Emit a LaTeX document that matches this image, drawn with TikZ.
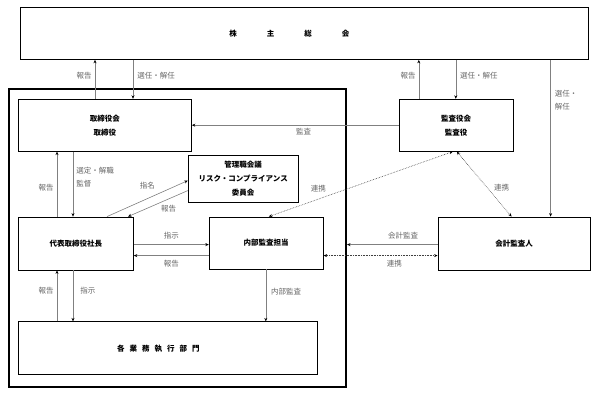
\documentclass[tikz,border=0pt]{standalone}
\usepackage{fontspec}
\setmainfont{Noto Sans CJK JP}
\usetikzlibrary{arrows.meta, positioning}

\begin{document}
\begin{tikzpicture}[
    box/.style={rectangle, draw=black, fill=white, line width=0.8pt, inner sep=2pt, align=center, font=\bfseries\fontsize{7.5pt}{14pt}\selectfont},
    framebox/.style={rectangle, draw=black, line width=2pt, minimum width=337pt, minimum height=298pt},
    arrow/.style={-{Stealth[length=3.5pt, width=3pt, color=black]}, line width=0.6pt, draw=black!50},
    darrow/.style={{Stealth[length=3.5pt, width=3pt, color=black]}-{Stealth[length=3.5pt, width=3pt, color=black]}, line width=0.6pt, densely dotted, draw=black!75},
    note/.style={font=\fontsize{7.5pt}{13pt}\selectfont, text=black!60, inner sep=1pt}
]
\useasboundingbox (0,0) rectangle (595pt,-393pt);

% Shareholders meeting (top)
\node[box, anchor=north west, minimum width=568pt, minimum height=52pt] (soukai) at (20pt,-7pt) {株\hspace{30pt}主\hspace{30pt}総\hspace{30pt}会\hspace*{30pt}};

% Company frame
\node[framebox, below right=28pt and -12pt of soukai.south west] (naibu) {};

% Boxes
\node[box, minimum width=173pt, minimum height=52pt, below right=39pt and -2pt of soukai.south west] (torishimari) {取締役会\\取締役};
\node[box, minimum width=114pt, minimum height=52pt, below right=0pt and 207pt of torishimari.north east] (kansayaku) {監査役会\\監査役};
\node[box, minimum width=110pt, minimum height=47pt, below right=3pt and -4pt of torishimari.south east] (kanrishoku) {管理職会議\\リスク・コンプライアンス\\委員会};
\node[box, minimum width=115pt, minimum height=53pt, below right=65pt and 0pt of torishimari.south west] (daihyo) {代表取締役社長};
\node[box, minimum width=114pt, minimum height=52pt, below right=0pt and 75pt of daihyo.north east] (naibukansa) {内部監査担当};
\node[box, minimum width=152pt, minimum height=53pt, below right=0pt and 114pt of naibukansa.north east] (kaikei) {会計監査人};
\node[box, minimum width=299pt, minimum height=53pt, below right=51pt and 0pt of daihyo.south west] (kakugyomu) {各\hspace{5pt}業\hspace{5pt}務\hspace{5pt}執\hspace{5pt}行\hspace{5pt}部\hspace{5pt}門\hspace*{19pt}};

% Shareholders meeting <-> boards
\draw[arrow] ([xshift=77pt]torishimari.north west) -- ([xshift=77pt]torishimari.north west |- soukai.south) node[note, pos=0.6, left=2pt] {報告};
\draw[arrow] ([xshift=115pt]torishimari.north west |- soukai.south) -- ([xshift=115pt]torishimari.north west) node[note, pos=0.4, right=3pt] {選任・解任};
\draw[arrow] ([xshift=20pt]kansayaku.north west) -- ([xshift=20pt]kansayaku.north west |- soukai.south) node[note, pos=0.6, left=2pt] {報告};
\draw[arrow] ([xshift=57pt]kansayaku.north west |- soukai.south) -- ([xshift=57pt]kansayaku.north west) node[note, pos=0.4, right=3pt] {選任・解任};
\draw[arrow] ([xshift=113pt]kaikei.north west |- soukai.south) -- ([xshift=113pt]kaikei.north west) node[note, pos=0.26, right=3pt, align=left] {選任・\\解任};

% Audit
\draw[arrow] (kansayaku.west) -- (torishimari.east) node[note, pos=0.46, below=2pt] {監査};

% Board <-> president
\draw[arrow] ([xshift=39pt]daihyo.north west) -- ([xshift=39pt]daihyo.north west |- torishimari.south) node[note, pos=0.45, left=2pt] {報告};
\draw[arrow] ([xshift=55pt]daihyo.north west |- torishimari.south) -- ([xshift=55pt]daihyo.north west) node[note, pos=0.4, right=2pt, align=left] {選定・解職\\監督};

% President <-> committee
\draw[arrow] ([xshift=89pt]daihyo.north west) -- ([yshift=-26pt]kanrishoku.north west) node[note, pos=0.5, above=8pt] {指名};
\draw[arrow] ([yshift=-36pt]kanrishoku.north west) -- ([xshift=110pt]daihyo.north west) node[note, pos=0.5, below right=0pt and 2pt] {報告};

% President <-> internal audit
\draw[arrow] ([yshift=-28pt]daihyo.north east) -- ([yshift=-28pt]daihyo.north east -| naibukansa.west) node[note, midway, above=4pt] {指示};
\draw[arrow] ([yshift=-39pt]naibukansa.north west) -- ([yshift=-39pt]naibukansa.north west -| daihyo.east) node[note, midway, below=3pt] {報告};

% President / internal audit -> divisions
\draw[arrow] ([xshift=39pt]kakugyomu.north west) -- ([xshift=39pt]kakugyomu.north west |- daihyo.south) node[note, pos=0.6, left=2pt] {報告};
\draw[arrow] ([xshift=55pt]kakugyomu.north west |- daihyo.south) -- ([xshift=55pt]kakugyomu.north west) node[note, pos=0.4, right=6pt] {指示};
\draw[arrow] ([xshift=57pt]naibukansa.south west) -- ([xshift=57pt]naibukansa.south west |- kakugyomu.north) node[note, pos=0.42, right=4pt] {内部監査};

% Accounting auditor
\draw[arrow] ([yshift=-28pt]kaikei.north west) -- ([yshift=-28pt]kaikei.north west -| naibu.east) node[note, pos=0.38, above=4pt] {会計監査};
\draw[darrow, line width=1pt] ([yshift=-39pt]naibukansa.north east) -- ([yshift=-39pt]naibukansa.north east -| kaikei.west) node[note, pos=0.62, below=3pt] {連携};

% Cooperation with auditors
\draw[darrow] ([xshift=54pt]kansayaku.south west) -- ([xshift=60pt]naibukansa.north west) node[note, pos=0.73, above=6pt] {連携};
\draw[darrow] ([xshift=58pt]kansayaku.south west) -- ([xshift=74pt]kaikei.north west) node[note, pos=0.55, right=6pt] {連携};

\end{tikzpicture}
\end{document}
